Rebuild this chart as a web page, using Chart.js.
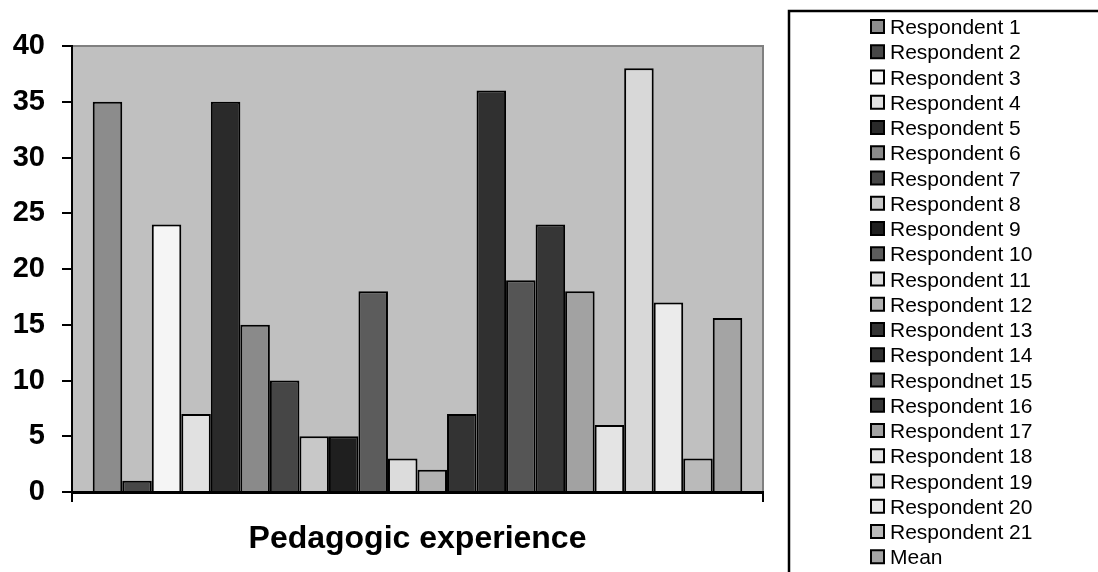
<!DOCTYPE html>
<html>
<head>
<meta charset="utf-8">
<script src="https://cdn.jsdelivr.net/npm/chart.js@4/dist/chart.umd.min.js"></script>
<style>
  html, body { margin: 0; padding: 0; background: #ffffff; overflow: hidden; }
  #wrap { width: 1098px; height: 572px; position: relative; }
</style>
</head>
<body>
<div id="wrap"><canvas id="c" width="1098" height="572"></canvas></div>
<script>
const categories = [''];
const axisTitle = 'Pedagogic experience';
const seriesNames = [
  'Respondent 1', 'Respondent 2', 'Respondent 3', 'Respondent 4', 'Respondent 5',
  'Respondent 6', 'Respondent 7', 'Respondent 8', 'Respondent 9', 'Respondent 10',
  'Respondent 11', 'Respondent 12', 'Respondent 13', 'Respondent 14', 'Respondnet 15',
  'Respondent 16', 'Respondent 17', 'Respondent 18', 'Respondent 19', 'Respondent 20',
  'Respondent 21', 'Mean'
];
const seriesValues = [35, 1, 24, 7, 35, 15, 10, 5, 5, 18, 3, 2, 7, 36, 19, 24, 18, 6, 38, 17, 3, 15.6];
const seriesColors = [
  '#8c8c8c', '#474747', '#f5f5f5', '#e1e1e1', '#2a2a2a',
  '#8a8a8a', '#464646', '#c8c8c8', '#1f1f1f', '#5c5c5c',
  '#dcdcdc', '#b2b2b2', '#333333', '#303030', '#555555',
  '#363636', '#a2a2a2', '#e4e4e4', '#d8d8d8', '#ebebeb',
  '#bababa', '#a4a4a4'
];
const yTicks = [0, 5, 10, 15, 20, 25, 30, 35, 40];

const FONT = '"Liberation Sans", Arial, sans-serif';

const plotBg = {
  id: 'plotBg',
  beforeDraw(chart) {
    const {ctx, chartArea: a} = chart;
    ctx.save();
    ctx.fillStyle = '#c0c0c0';
    ctx.fillRect(a.left, a.top, a.right - a.left, a.bottom - a.top);
    ctx.strokeStyle = '#808080';
    ctx.lineWidth = 2;
    ctx.beginPath();
    ctx.moveTo(a.left, a.top);
    ctx.lineTo(a.right, a.top);
    ctx.lineTo(a.right, a.bottom);
    ctx.stroke();
    ctx.restore();
  }
};

const boxLegend = {
  id: 'boxLegend',
  afterDraw(chart) {
    const {ctx} = chart;
    ctx.save();
    ctx.strokeStyle = '#000';
    ctx.lineWidth = 2.5;
    ctx.strokeRect(789, 11, 400, 600);
    ctx.font = '21px ' + FONT;
    ctx.textBaseline = 'alphabetic';
    ctx.textAlign = 'left';
    chart.data.datasets.forEach((ds, i) => {
      const base = 34 + i * 25.25;
      ctx.fillStyle = ds.backgroundColor;
      ctx.fillRect(871, base - 14, 13, 13);
      ctx.strokeStyle = '#000';
      ctx.lineWidth = 2;
      ctx.strokeRect(871, base - 14, 13, 13);
      ctx.fillStyle = '#000';
      ctx.fillText(ds.label, 890, base);
    });
    ctx.restore();
  }
};

const datasets = seriesNames.map((name, i) => ({
  label: name,
  data: [seriesValues[i]],
  backgroundColor: seriesColors[i],
  borderColor: '#000000',
  borderWidth: 2,
  categoryPercentage: 0.94,
  barPercentage: 1.0
}));

new Chart(document.getElementById('c'), {
  type: 'bar',
  data: { labels: categories, datasets },
  options: {
    responsive: false,
    animation: false,
    devicePixelRatio: 1,
    layout: { padding: { left: 0, top: 46, right: 335, bottom: 0 } },
    plugins: {
      legend: { display: false },
      tooltip: { enabled: false },
      title: { display: false }
    },
    scales: {
      x: {
        grid: { drawOnChartArea: false, drawTicks: true, tickLength: 10, color: '#000', lineWidth: 2 },
        border: { display: true, color: '#000', width: 3 },
        ticks: { display: true, font: { size: 1 } },
        title: {
          display: true,
          text: axisTitle,
          color: '#000',
          font: { family: FONT, size: 32, weight: 'bold' },
          padding: { top: 0, bottom: 14 }
        },
        afterFit(scale) { scale.height = 80; }
      },
      y: {
        min: 0,
        max: 40,
        afterBuildTicks(scale) { scale.ticks = yTicks.map(v => ({ value: v })); },
        grid: { drawOnChartArea: false, drawTicks: true, tickLength: 10, color: '#000', lineWidth: 2 },
        border: { display: true, color: '#000', width: 2 },
        ticks: {
          color: '#000',
          padding: 17,
          font: { family: FONT, size: 29, weight: 'bold' }
        },
        afterFit(scale) { scale.width = 72; }
      }
    }
  },
  plugins: [plotBg, boxLegend]
});
</script>
</body>
</html>
